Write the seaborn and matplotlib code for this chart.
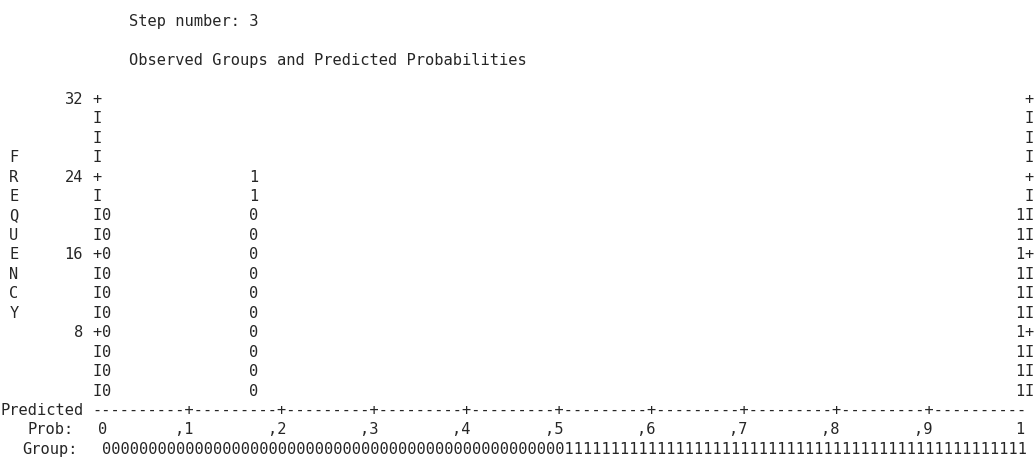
import matplotlib
matplotlib.use("Agg")
import matplotlib.pyplot as plt
import seaborn as sns

# ---------------- data ----------------
step_title = "Step number: 3"
plot_title = "Observed Groups and Predicted Probabilities"
pred_prob = [0.00, 0.16, 1.00]        # predicted-probability bins that hold cases
group0_cases = [20, 20, 0]            # observed group 0 cases per bin
group1_cases = [0, 4, 20]             # observed group 1 cases per bin
cases_per_symbol = 2
freq_ticks = [32, 24, 16, 8]
freq_max = 32
prob_labels = ["0", ",1", ",2", ",3", ",4", ",5", ",6", ",7", ",8", ",9", "1"]
cut_value = 0.5
axis_letters = list("FREQUENCY")
n_cols = 100

# ---------------- layout ----------------
sns.set_theme(style="white")
plt.rcParams["font.family"] = ["DejaVu Sans Mono", "DejaVu Sans"]
W, H, DPI = 1035, 458, 100
CW = 9.23            # character width in px
LINE0, LH = 20.0, 19.45
FS = 11.04
COL = "#262626"

fig = plt.figure(figsize=(W / DPI, H / DPI), dpi=DPI)
ax = fig.add_axes([0, 0, 1, 1])

# x data = predicted probability, y data = frequency
def X(c):  # column-unit coordinate -> probability units
    return (c - 11.5) / (n_cols - 1)

def V(L):  # text line number -> frequency units
    return 40 - 2 * L

ax.set_xlim(X(0), X(W / CW))
ax.set_ylim(V((H - LINE0) / LH), V(-LINE0 / LH))
ax.axis("off")

def put(x, y, s, ha="left"):
    ax.text(x, y, s, ha=ha, va="center_baseline", fontsize=FS, color=COL)

# headers
put(X(14), V(0), step_title)
put(X(14), V(2), plot_title)

# frame rows
rows = list(range(freq_max, 0, -cases_per_symbol))
for v in rows:
    sym = "+" if v in freq_ticks else "I"
    put(X(10.5), v, sym, ha="center")
    put(X(111.5), v, sym, ha="center")
    if v in freq_ticks:
        put(X(9), v, str(v), ha="right")

# vertical axis title letters
letter_rows = [26 - 2 * i for i in range(len(axis_letters))]
for ch, v in zip(axis_letters, letter_rows):
    put(X(1.5), v, ch, ha="center")

# stacked symbols
for p, n0, n1 in zip(pred_prob, group0_cases, group1_cases):
    col = 11 + round(p * (n_cols - 1))
    symbols = ["0"] * (n0 // cases_per_symbol) + ["1"] * (n1 // cases_per_symbol)
    for k, s in enumerate(symbols):
        put(X(col + 0.5), cases_per_symbol * (k + 1), s, ha="center")

# predicted axis line
line = ""
for c in range(10, 11 + n_cols):
    line += "+" if (c - 10) % 10 == 0 and 20 <= c <= 100 else "-"
put(X(0), V(20), "Predicted")
put(X(10), V(20), line)

# prob labels
put(X(3), V(21), "Prob:")
for k, lab in enumerate(prob_labels):
    if k == 0:
        put(X(11.5) - 0.004, V(21), lab, ha="center")
    elif k == len(prob_labels) - 1:
        put(X(110.5), V(21), lab, ha="center")
    else:
        put(X(11 + 10 * k), V(21), lab, ha="right")

# group row
n0 = int(round(cut_value * n_cols))
group_str = "0" * n0 + "1" * (n_cols - n0)
put(X(2.4), V(22), "Group:")
put(X(11), V(22), group_str)

fig.savefig("out.png", dpi=DPI, facecolor="white")
